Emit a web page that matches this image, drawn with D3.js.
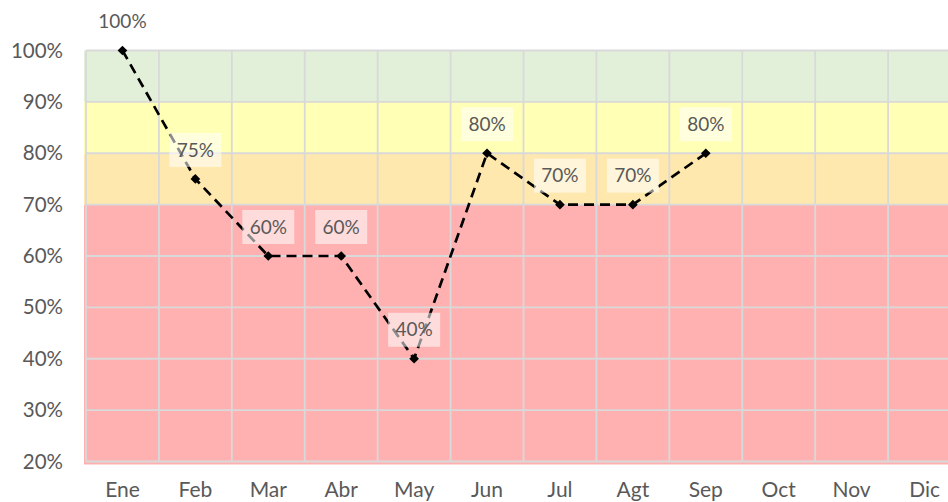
<!DOCTYPE html>
<html>
<head>
<meta charset="utf-8">
<script src="https://cdn.jsdelivr.net/npm/d3@7"></script>
<style>
  html, body { margin: 0; padding: 0; background: #fff; }
  svg { display: block; }
</style>
</head>
<body>
<svg id="chart" width="948" height="502"></svg>
<script>
// Monthly compliance series
const months = ["Ene", "Feb", "Mar", "Abr", "May", "Jun", "Jul", "Agt", "Sep", "Oct", "Nov", "Dic"];
const values = [1.00, 0.75, 0.60, 0.60, 0.40, 0.80, 0.70, 0.70, 0.80];
const valueLabels = ["100%", "75%", "60%", "60%", "40%", "80%", "70%", "70%", "80%"];

// Background performance bands (lower bound, upper bound, colour)
const bandLows = [0.2, 0.7, 0.8, 0.9];
const bandHighs = [0.7, 0.8, 0.9, 1.0];
const bandColors = ["#ffb1b1", "#ffe8ad", "#ffffb5", "#e2efd9"];

// Y axis ticks
const yTicks = [0.2, 0.3, 0.4, 0.5, 0.6, 0.7, 0.8, 0.9, 1.0];

const svg = d3.select("#chart");
const font = "Lato, 'Liberation Sans', sans-serif";
const textColor = "#595959";

const x = d3.scaleBand().domain(months).range([86, 961]).padding(0);
const y = d3.scaleLinear().domain([0.2, 1.0]).range([461.5, 50.5]);

// bands
svg.append("g").selectAll("rect")
  .data(bandLows)
  .join("rect")
  .attr("x", x.range()[0] - 2)
  .attr("width", x.range()[1] - x.range()[0] + 2)
  .attr("y", (d, i) => y(bandHighs[i]))
  .attr("height", (d, i) => y(d) - y(bandHighs[i]) + (i === 0 ? 3 : 0))
  .attr("fill", (d, i) => bandColors[i]);

// gridlines
const grid = svg.append("g").attr("stroke", "#d9d9d9").attr("stroke-width", 1.8);
grid.selectAll("line.h")
  .data(yTicks)
  .join("line")
  .attr("class", "h")
  .attr("x1", x.range()[0]).attr("x2", x.range()[1])
  .attr("y1", d => y(d)).attr("y2", d => y(d));
grid.selectAll("line.v")
  .data(months)
  .join("line")
  .attr("class", "v")
  .attr("x1", d => x(d)).attr("x2", d => x(d))
  .attr("y1", y(1.0)).attr("y2", y(0.2));

// y axis labels
const yAxis = d3.axisLeft(y).tickValues(yTicks).tickFormat(d3.format(".0%")).tickSize(0).tickPadding(0);
const gy = svg.append("g").attr("transform", "translate(63,0)").call(yAxis);
gy.select(".domain").remove();
gy.selectAll("text").attr("font-family", font).attr("font-size", 20.5).attr("fill", textColor);

// x axis labels
const xAxis = d3.axisBottom(x).tickSize(0).tickPadding(0);
const gx = svg.append("g").attr("transform", "translate(0,482)").call(xAxis);
gx.select(".domain").remove();
gx.selectAll("text").attr("font-family", font).attr("font-size", 21).attr("fill", textColor).attr("dy", "0.72em");

// line series
const pts = values.map((v, i) => ({ m: months[i], v: v, label: valueLabels[i] }));
const cx = d => x(d.m) + x.bandwidth() / 2;

svg.append("path")
  .datum(pts)
  .attr("fill", "none")
  .attr("stroke", "#000")
  .attr("stroke-width", 2.7)
  .attr("stroke-dasharray", "10,6")
  .attr("d", d3.line().x(cx).y(d => y(d.v)));

svg.append("g").selectAll("path")
  .data(pts)
  .join("path")
  .attr("transform", d => `translate(${cx(d)},${y(d.v)})`)
  .attr("d", d3.symbol(d3.symbolDiamond2, 60))
  .attr("fill", "#000");

// data labels with translucent boxes
const lab = svg.append("g").selectAll("g")
  .data(pts)
  .join("g")
  .attr("transform", d => `translate(${cx(d)},${y(d.v) - 29})`);
lab.append("rect")
  .attr("x", -26).attr("y", -17)
  .attr("width", 52).attr("height", 34)
  .attr("fill", "#fff").attr("fill-opacity", 0.55);
lab.append("text")
  .attr("text-anchor", "middle")
  .attr("dy", "0.35em")
  .attr("font-family", font)
  .attr("font-size", 19)
  .attr("fill", textColor)
  .text(d => d.label);
</script>
</body>
</html>
